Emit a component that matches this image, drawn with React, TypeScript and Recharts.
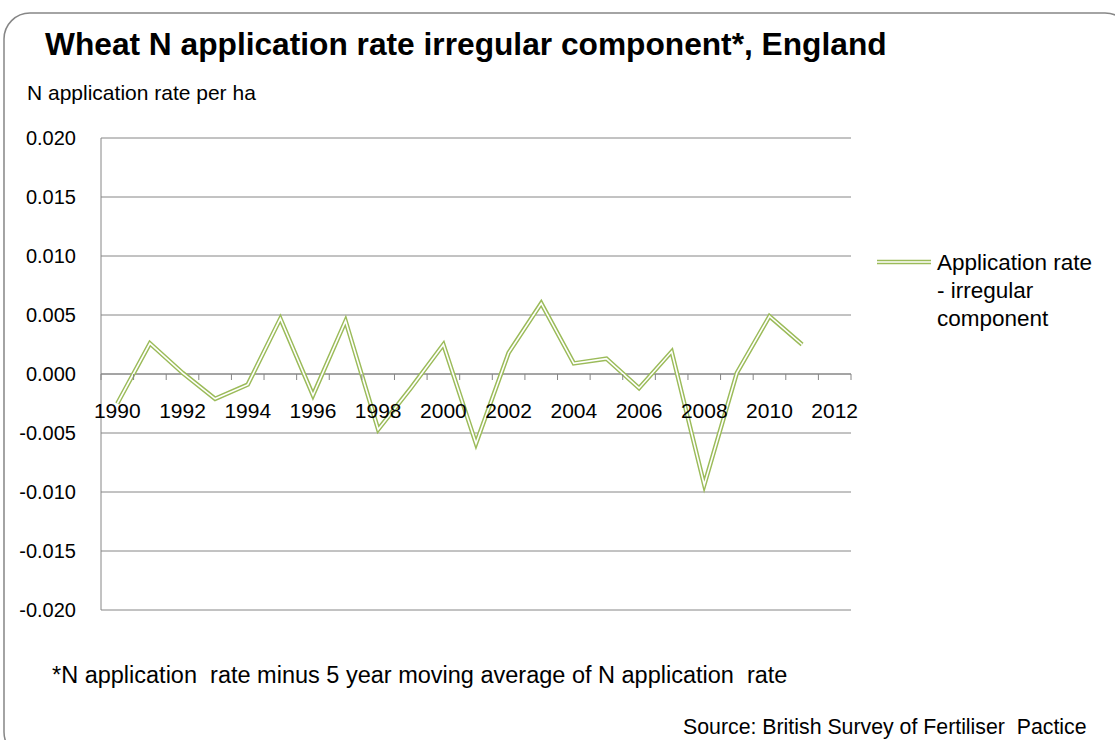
import React from "react";
import {
  LineChart,
  Line,
  XAxis,
  YAxis,
  CartesianGrid,
  ReferenceLine,
  Legend,
} from "recharts";

const years = [
  1990, 1991, 1992, 1993, 1994, 1995, 1996, 1997, 1998, 1999, 2000,
  2001, 2002, 2003, 2004, 2005, 2006, 2007, 2008, 2009, 2010, 2011,
];
const irregular = [
  -0.0025, 0.0026, 0.0001, -0.0021, -0.0009, 0.0047, -0.0018, 0.0045,
  -0.0047, -0.0012, 0.0025, -0.0059, 0.0018, 0.006, 0.0009, 0.0013,
  -0.0012, 0.0019, -0.0094, 0.0001, 0.0049, 0.0025,
];
const yearLabels = [
  1990, 1992, 1994, 1996, 1998, 2000, 2002, 2004, 2006, 2008, 2010, 2012,
];
const yTicks = [-0.02, -0.015, -0.01, -0.005, 0, 0.005, 0.01, 0.015, 0.02];
const seriesName = "Application rate - irregular component";
const legendLines = ["Application rate", "- irregular", "component"];

const data = years.map((y, i) => ({ year: y, value: irregular[i] }));

// category boundaries (tick marks between categories) + labels
const firstYear = yearLabels[0];
const lastYear = yearLabels[yearLabels.length - 1];
const boundaryTicks: number[] = [];
for (let y = firstYear; y <= lastYear + 1; y++) boundaryTicks.push(y - 0.5);
const xTicks = [...boundaryTicks, ...yearLabels].sort((a, b) => a - b);

const W = 1115;
const H = 740;
const FONT = "'Liberation Sans', Arial, sans-serif";
const GREEN = "#9bbb59";
const GREY = "#868686";

const PLOT_TOP = 138;
const PLOT_BOTTOM = 610;
const PLOT_RIGHT = 851;
const LEGEND_W = 240;
const ZERO_Y = (PLOT_TOP + PLOT_BOTTOM) / 2;

const XTick = (props: any) => {
  const { x, payload } = props;
  const v = payload.value;
  if (!Number.isInteger(v)) {
    return (
      <line x1={x} x2={x} y1={ZERO_Y} y2={ZERO_Y + 6} stroke={GREY} strokeWidth={1} />
    );
  }
  return (
    <text
      x={x}
      y={ZERO_Y + 44}
      textAnchor="middle"
      fontFamily={FONT}
      fontSize={21}
      fill="#000"
    >
      {v}
    </text>
  );
};

const LegendContent = () => (
  <svg width={LEGEND_W} height={90} style={{ overflow: "visible", display: "block" }}>
    <line x1={7} x2={61} y1={14} y2={14} stroke={GREEN} strokeWidth={4.5} />
    <line x1={7} x2={61} y1={14} y2={14} stroke="#fff" strokeWidth={1.6} />
    {legendLines.map((t, i) => (
      <text
        key={t}
        x={67}
        y={22 + i * 28}
        fontFamily={FONT}
        fontSize={22.5}
        fill="#000"
      >
        {t}
      </text>
    ))}
  </svg>
);

export default function App() {
  return (
    <div
      style={{
        position: "absolute",
        left: 0,
        top: 0,
        width: W,
        height: H,
        background: "#fff",
        overflow: "hidden",
      }}
    >
      <svg
        width={W}
        height={H}
        style={{ position: "absolute", left: 0, top: 0 }}
      >
        <rect
          x={4}
          y={13}
          width={1127}
          height={745}
          rx={26}
          ry={26}
          fill="#fff"
          stroke={GREY}
          strokeWidth={1.5}
        />
      </svg>
      <div style={{ position: "absolute", left: 0, top: 0 }}>
        <LineChart
          width={W}
          height={H}
          data={data}
          margin={{
            top: PLOT_TOP,
            right: W - PLOT_RIGHT - LEGEND_W,
            bottom: H - PLOT_BOTTOM - 30,
            left: 41,
          }}
        >
          <CartesianGrid horizontal vertical={false} stroke={GREY} strokeWidth={1} />
          <XAxis
            dataKey="year"
            type="number"
            domain={[firstYear - 0.5, lastYear + 0.5]}
            ticks={xTicks}
            interval={0}
            tick={<XTick />}
            tickLine={false}
            axisLine={false}
            height={30}
          />
          <YAxis
            domain={[yTicks[0], yTicks[yTicks.length - 1]]}
            ticks={yTicks}
            interval={0}
            tickFormatter={(v: number) => v.toFixed(3)}
            axisLine={{ stroke: GREY, strokeWidth: 1 }}
            tickLine={false}
            tickSize={0}
            tickMargin={25}
            width={60}
            tick={{ fill: "#000", fontSize: 20, fontFamily: FONT }}
          />
          <ReferenceLine y={0} stroke={GREY} strokeWidth={1} />
          <Line
            dataKey="value"
            name={seriesName}
            stroke={GREEN}
            strokeWidth={4.5}
            dot={false}
            isAnimationActive={false}
            strokeLinejoin="miter"
          />
          <Line
            dataKey="value"
            name="inner"
            stroke="#fff"
            strokeWidth={1.6}
            dot={false}
            legendType="none"
            isAnimationActive={false}
            strokeLinejoin="miter"
          />
          <Legend
            layout="vertical"
            align="right"
            verticalAlign="top"
            content={<LegendContent />}
            wrapperStyle={{ position: "absolute", left: 870, top: 248, width: LEGEND_W, right: "auto" }}
          />
        </LineChart>
      </div>
      <svg
        width={W}
        height={H}
        style={{ position: "absolute", left: 0, top: 0, pointerEvents: "none" }}
      >
        <text x={45} y={55} fontFamily={FONT} fontWeight="bold" fontSize={31.7} fill="#000">
          Wheat N application rate irregular component*, England
        </text>
        <text x={27} y={100} fontFamily={FONT} fontSize={21} fill="#000">
          N application rate per ha
        </text>
        <text x={52} y={683} fontFamily={FONT} fontSize={23.5} fill="#000" style={{ whiteSpace: "pre" }}>
          *N application  rate minus 5 year moving average of N application  rate
        </text>
        <text x={683} y={734} fontFamily={FONT} fontSize={21.3} fill="#000" style={{ whiteSpace: "pre" }}>
          Source: British Survey of Fertiliser  Pactice
        </text>
      </svg>
    </div>
  );
}
